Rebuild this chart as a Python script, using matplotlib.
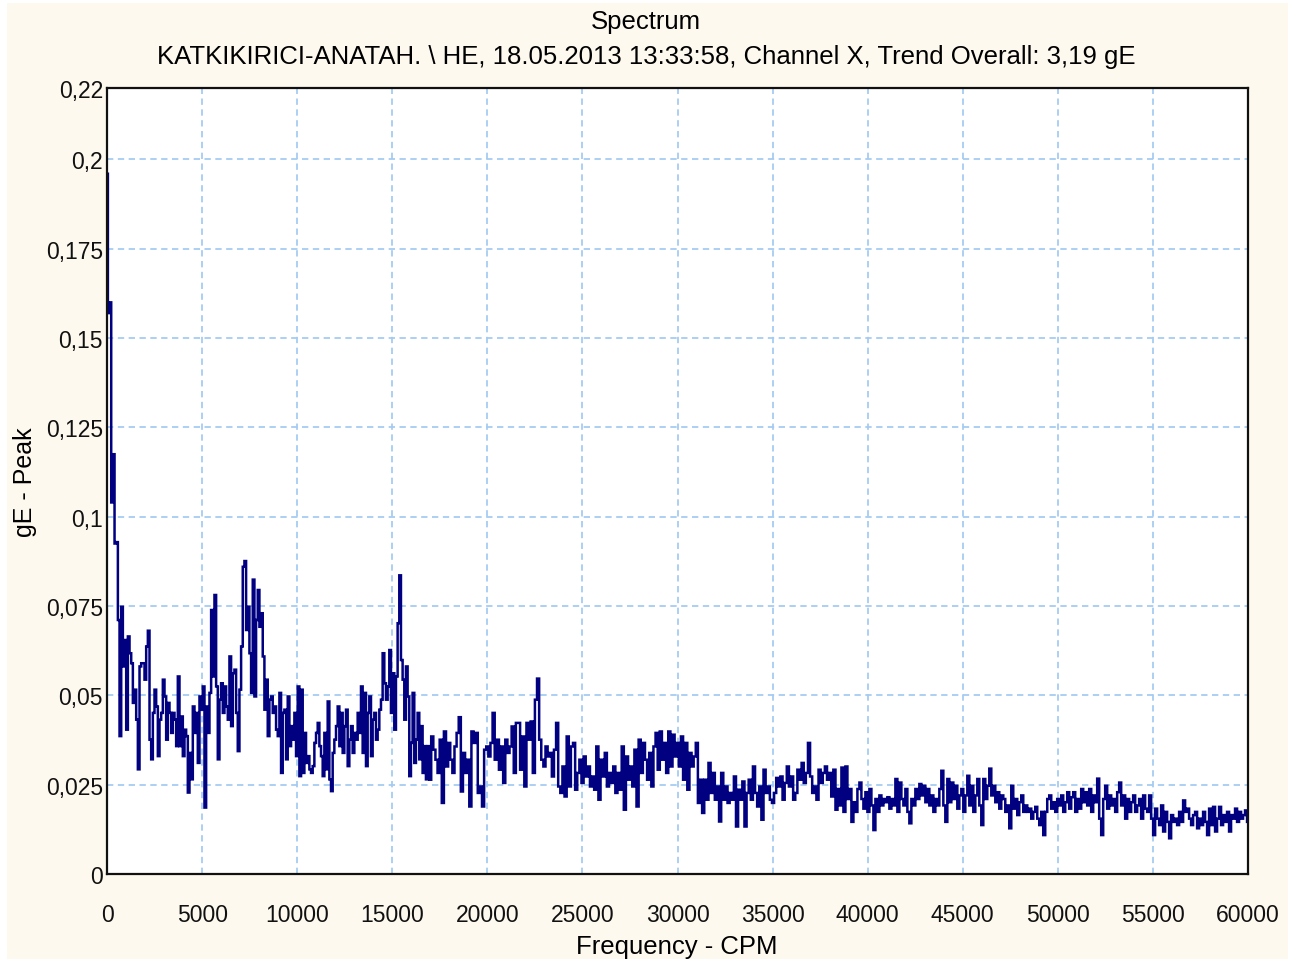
import numpy as np
import matplotlib
matplotlib.use("Agg")
import matplotlib.pyplot as plt
from matplotlib.patches import Rectangle

plt.rcParams['font.family'] = ['Liberation Sans', 'DejaVu Sans']

# values, gE peak, evenly spaced inside each band
band_0_16900 = [
    0.196, 0.157, 0.160, 0.104, 0.1175,
    0.0925, 0.0929, 0.0711, 0.0386, 0.0748, 0.0581, 0.0655, 0.0404, 0.0665, 0.0618,
    0.0590, 0.0479, 0.0516, 0.0432, 0.0293, 0.0581, 0.0590, 0.0590, 0.0544, 0.0637,
    0.0681, 0.0376, 0.0321, 0.0451, 0.0516, 0.0469, 0.0330, 0.0432, 0.0451, 0.0544,
    0.0497, 0.0376, 0.0479, 0.0451, 0.0395, 0.0451, 0.0432, 0.0358, 0.0553, 0.0358,
    0.0441, 0.0330, 0.0404, 0.0386, 0.0228, 0.0339, 0.0265, 0.0469, 0.0395, 0.0451,
    0.0311, 0.0497, 0.0460, 0.0525, 0.0186, 0.0469, 0.0395, 0.0507, 0.0739, 0.0553,
    0.0781, 0.0525, 0.0321, 0.0488, 0.0534, 0.0451, 0.0525, 0.0469, 0.0432, 0.0609,
    0.0414, 0.0562, 0.0572, 0.0451, 0.0344, 0.0516, 0.0637, 0.0860, 0.0876, 0.0683,
    0.0748, 0.0618, 0.0507, 0.0824, 0.0497, 0.0711, 0.0795, 0.0692, 0.0730, 0.0609,
    0.0460, 0.0544, 0.0386, 0.0488, 0.0497, 0.0451, 0.0469, 0.0404, 0.0386, 0.0507,
    0.0283, 0.0451, 0.0460, 0.0321, 0.0497, 0.0358, 0.0414, 0.0376, 0.0451, 0.0330,
    0.0525, 0.0274, 0.0516, 0.0283, 0.0395, 0.0311, 0.0330, 0.0293, 0.0283, 0.0302,
    0.0367, 0.0395, 0.0423, 0.0358, 0.0330, 0.0274, 0.0395, 0.0293, 0.0483, 0.0265,
    0.0232, 0.0339, 0.0376, 0.0414, 0.0469, 0.0358, 0.0451, 0.0339, 0.0414, 0.0460,
    0.0302, 0.0376, 0.0414, 0.0339, 0.0395, 0.0376, 0.0451, 0.0395, 0.0525, 0.0339,
    0.0507, 0.0302, 0.0451, 0.0497, 0.0330, 0.0432, 0.0451, 0.0376, 0.0404, 0.0460,
    0.0488, 0.0618, 0.0534, 0.0488, 0.0525, 0.0627, 0.0451, 0.0562, 0.0404, 0.0553,
    0.0702, 0.0836, 0.0599, 0.0544, 0.0432, 0.0581, 0.0497, 0.0274, 0.0367, 0.0507,
    0.0311, 0.0376, 0.0451, 0.0321, 0.0414, 0.0283, 0.0358, 0.0265, 0.0358,
]

band_16900_38400 = [
    0.0264, 0.0385, 0.0348, 0.0320, 0.0283, 0.0376, 0.0199, 0.0399, 0.0301, 0.0367,
    0.0320, 0.0283, 0.0357, 0.0395, 0.0439, 0.0231, 0.0339, 0.0283, 0.0320, 0.0189,
    0.0399, 0.0367, 0.0395, 0.0227, 0.0245, 0.0189, 0.0348, 0.0357, 0.0329, 0.0367,
    0.0451, 0.0320, 0.0376, 0.0292, 0.0357, 0.0255, 0.0376, 0.0339, 0.0357, 0.0413,
    0.0283, 0.0423, 0.0423, 0.0292, 0.0385, 0.0245, 0.0423, 0.0376, 0.0427, 0.0283,
    0.0488, 0.0547, 0.0376, 0.0320, 0.0301, 0.0357, 0.0329, 0.0339, 0.0273, 0.0348,
    0.0423, 0.0245, 0.0227, 0.0301, 0.0217, 0.0385, 0.0245, 0.0357, 0.0367, 0.0236,
    0.0283, 0.0320, 0.0255, 0.0329, 0.0273, 0.0301, 0.0245, 0.0273, 0.0236, 0.0357,
    0.0208, 0.0320, 0.0273, 0.0339, 0.0245, 0.0283, 0.0255, 0.0301, 0.0227, 0.0283,
    0.0236, 0.0357, 0.0180, 0.0329, 0.0264, 0.0301, 0.0245, 0.0348, 0.0189, 0.0376,
    0.0283, 0.0367, 0.0320, 0.0264, 0.0339, 0.0245, 0.0357, 0.0395, 0.0292, 0.0399,
    0.0320, 0.0367, 0.0283, 0.0399, 0.0301, 0.0390, 0.0329, 0.0367, 0.0301, 0.0385,
    0.0264, 0.0367, 0.0236, 0.0339, 0.0301, 0.0329, 0.0367, 0.0199, 0.0264, 0.0171,
    0.0264, 0.0208, 0.0311, 0.0227, 0.0283, 0.0208, 0.0245, 0.0147, 0.0283, 0.0208,
    0.0245, 0.0199, 0.0227, 0.0208, 0.0273, 0.0133, 0.0236, 0.0208, 0.0259, 0.0133,
    0.0227, 0.0264, 0.0208, 0.0301, 0.0227, 0.0189, 0.0245, 0.0152, 0.0292, 0.0227,
    0.0245, 0.0208, 0.0199, 0.0227, 0.0269, 0.0245, 0.0273, 0.0208, 0.0255, 0.0301,
    0.0245, 0.0273, 0.0208, 0.0227, 0.0292, 0.0264, 0.0311, 0.0255, 0.0283, 0.0367,
    0.0273, 0.0227, 0.0245, 0.0208, 0.0292, 0.0255, 0.0283, 0.0301, 0.0264, 0.0283,
    0.0217, 0.0292, 0.0180,
]

band_38400_60000 = [
    0.0238, 0.0192, 0.0298, 0.0174, 0.0301, 0.0210, 0.0238, 0.0146, 0.0201, 0.0174,
    0.0238, 0.0256, 0.0210, 0.0183, 0.0229, 0.0174, 0.0238, 0.0192, 0.0123, 0.0210,
    0.0174, 0.0220, 0.0192, 0.0210, 0.0201, 0.0215, 0.0183, 0.0210, 0.0192, 0.0266,
    0.0174, 0.0256, 0.0210, 0.0192, 0.0238, 0.0174, 0.0142, 0.0210, 0.0192, 0.0238,
    0.0210, 0.0252, 0.0220, 0.0247, 0.0201, 0.0238, 0.0192, 0.0220, 0.0174, 0.0210,
    0.0192, 0.0238, 0.0289, 0.0192, 0.0146, 0.0266, 0.0201, 0.0256, 0.0210, 0.0247,
    0.0183, 0.0220, 0.0238, 0.0174, 0.0220, 0.0275, 0.0192, 0.0247, 0.0174, 0.0220,
    0.0266, 0.0192, 0.0137, 0.0266, 0.0210, 0.0247, 0.0295, 0.0220, 0.0247, 0.0201,
    0.0229, 0.0183, 0.0220, 0.0210, 0.0174, 0.0192, 0.0128, 0.0247, 0.0183, 0.0210,
    0.0165, 0.0201, 0.0220, 0.0174, 0.0192, 0.0174, 0.0183, 0.0155, 0.0174, 0.0188,
    0.0155, 0.0137, 0.0174, 0.0109, 0.0174, 0.0210, 0.0220, 0.0183, 0.0201, 0.0174,
    0.0210, 0.0192, 0.0220, 0.0174, 0.0201, 0.0229, 0.0183, 0.0215, 0.0229, 0.0174,
    0.0210, 0.0183, 0.0238, 0.0201, 0.0229, 0.0192, 0.0238, 0.0174, 0.0220, 0.0201,
    0.0267, 0.0155, 0.0109, 0.0210, 0.0247, 0.0183, 0.0220, 0.0192, 0.0210, 0.0174,
    0.0229, 0.0256, 0.0192, 0.0220, 0.0155, 0.0210, 0.0174, 0.0201, 0.0220, 0.0174,
    0.0192, 0.0210, 0.0155, 0.0220, 0.0183, 0.0174, 0.0220, 0.0155, 0.0109, 0.0183,
    0.0155, 0.0137, 0.0192, 0.0119, 0.0174, 0.0146, 0.0100, 0.0165, 0.0146, 0.0155,
    0.0137, 0.0174, 0.0146, 0.0206, 0.0174, 0.0183, 0.0155, 0.0137, 0.0165, 0.0174,
    0.0128, 0.0155, 0.0137, 0.0174, 0.0146, 0.0109, 0.0183, 0.0137, 0.0188, 0.0119,
    0.0155, 0.0188, 0.0137, 0.0165, 0.0146, 0.0174, 0.0119, 0.0165, 0.0155, 0.0183,
    0.0146, 0.0174, 0.0155, 0.0165, 0.0178, 0.0146,
]
band_edges = [(0, 16900), (16990, 38360), (38460, 60000)]

x_ticks = list(range(0, 60001, 5000))
y_ticks = [0, 0.025, 0.05, 0.075, 0.1, 0.125, 0.15, 0.175, 0.2, 0.22]
y_tick_labels = ["0", "0,025", "0,05", "0,075", "0,1", "0,125", "0,15", "0,175", "0,2", "0,22"]

bands = [band_0_16900, band_16900_38400, band_38400_60000]
freq = np.concatenate([np.linspace(a, b, len(v)) for (a, b), v in zip(band_edges, bands)])
amp = np.concatenate(bands)

fig = plt.figure(figsize=(12.96, 9.62), dpi=100, facecolor="white")
fig.patches.append(Rectangle((0.0054, 0.002), 0.9884, 0.9938, transform=fig.transFigure,
                             facecolor="#fdf9ee", edgecolor="none", zorder=-10))

ax = fig.add_axes([0.0826, 0.0904, 0.8804, 0.8171])
ax.set_facecolor("white")
ax.plot(freq, amp, color="#000080", lw=1.8, drawstyle="steps-mid",
        solid_joinstyle="miter")

ax.set_xlim(0, 60000)
ax.set_ylim(0, 0.22)
ax.set_xticks(x_ticks)
ax.set_xticklabels([str(t) for t in x_ticks])
ax.set_yticks(y_ticks)
ax.set_yticklabels(y_tick_labels)
ax.tick_params(axis="both", length=0, labelsize=16.5, colors="#111111")
ax.tick_params(axis="x", pad=21)
ax.tick_params(axis="y", pad=3)

grid_style = dict(color="#a6cbf2", lw=1.3, ls=(0, (3.5, 2.5)))
for t in x_ticks[1:-1]:
    ax.axvline(t, **grid_style, zorder=0)
for t in y_ticks[1:-1]:
    ax.axhline(t, **grid_style, zorder=0)

for s in ax.spines.values():
    s.set_color("#111111")
    s.set_linewidth(1.6)

fig.text(0.4985, 0.977, "Spectrum", ha="center", va="center", fontsize=18.5)
fig.text(0.4985, 0.941, "KATKIKIRICI-ANATAH. \\ HE, 18.05.2013 13:33:58, Channel X, Trend Overall: 3,19 gE",
         ha="center", va="center", fontsize=18.5)
fig.text(0.5225, 0.016, "Frequency - CPM", ha="center", va="center", fontsize=18.5)
fig.text(0.0195, 0.499, "gE - Peak", ha="center", va="center", rotation=90, fontsize=18)

fig.savefig("out.png", dpi=100, facecolor=fig.get_facecolor())
